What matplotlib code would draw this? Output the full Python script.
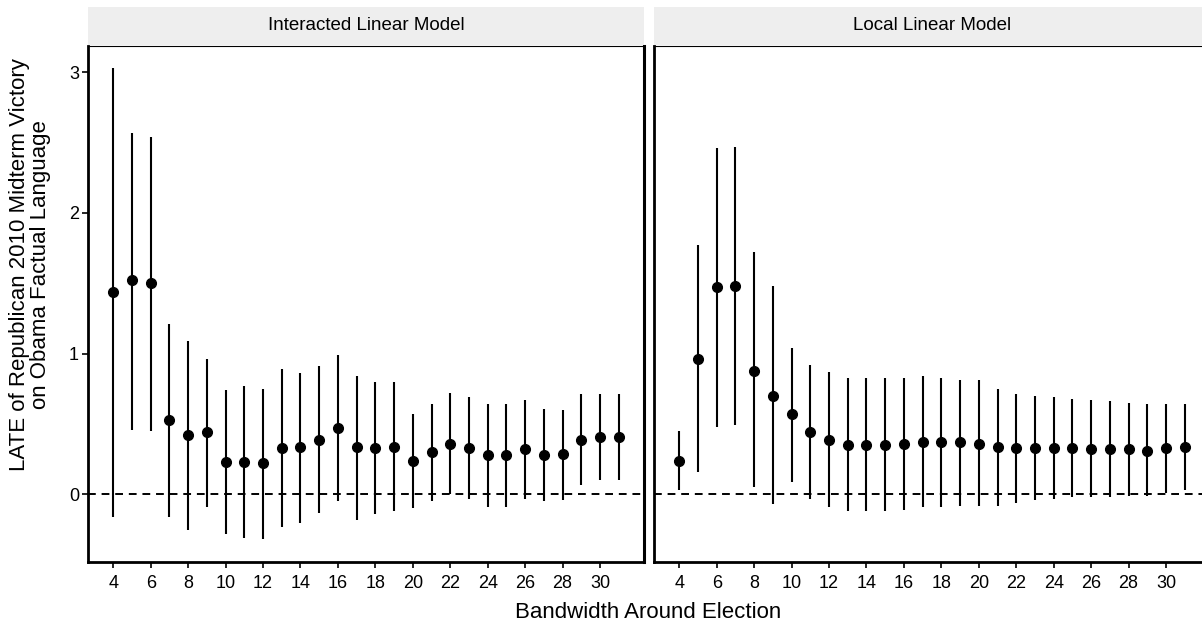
import matplotlib.pyplot as plt

plt.rcParams['font.family'] = ['Liberation Sans', 'DejaVu Sans']

bandwidth = list(range(4, 32))
panel_titles = ["Interacted Linear Model", "Local Linear Model"]

# interacted linear model: estimate, lower and upper bound
int_est = [1.44, 1.52, 1.50, 0.53, 0.42, 0.44, 0.23, 0.23, 0.22, 0.33, 0.34, 0.39, 0.47, 0.34,
           0.33, 0.34, 0.24, 0.30, 0.36, 0.33, 0.28, 0.28, 0.32, 0.28, 0.29, 0.39, 0.41, 0.41]
int_lo = [-0.16, 0.46, 0.45, -0.16, -0.25, -0.09, -0.28, -0.31, -0.32, -0.23, -0.20, -0.13, -0.05, -0.18,
          -0.14, -0.12, -0.10, -0.05, 0.00, -0.03, -0.09, -0.09, -0.03, -0.05, -0.04, 0.07, 0.10, 0.10]
int_hi = [3.03, 2.57, 2.54, 1.21, 1.09, 0.96, 0.74, 0.77, 0.75, 0.89, 0.86, 0.91, 0.99, 0.84,
          0.80, 0.80, 0.57, 0.64, 0.72, 0.69, 0.64, 0.64, 0.67, 0.61, 0.60, 0.71, 0.71, 0.71]

# local linear model
loc_est = [0.24, 0.96, 1.47, 1.48, 0.88, 0.70, 0.57, 0.44, 0.39, 0.35, 0.35, 0.35, 0.36, 0.37,
           0.37, 0.37, 0.36, 0.34, 0.33, 0.33, 0.33, 0.33, 0.32, 0.32, 0.32, 0.31, 0.33, 0.34]
loc_lo = [0.03, 0.16, 0.48, 0.49, 0.05, -0.07, 0.09, -0.03, -0.09, -0.12, -0.12, -0.12, -0.11, -0.09,
          -0.09, -0.08, -0.08, -0.08, -0.06, -0.04, -0.03, -0.02, -0.02, -0.02, -0.01, -0.01, 0.01, 0.03]
loc_hi = [0.45, 1.77, 2.46, 2.47, 1.72, 1.48, 1.04, 0.92, 0.87, 0.83, 0.83, 0.83, 0.83, 0.84,
          0.83, 0.81, 0.81, 0.75, 0.71, 0.70, 0.69, 0.68, 0.67, 0.66, 0.65, 0.64, 0.64, 0.64]

W, H = 1202, 627
fig = plt.figure(figsize=(W / 100, H / 100), dpi=100)

panels = [(88, int_est, int_lo, int_hi), (654, loc_est, loc_lo, loc_hi)]
for i, (left_px, est, lo, hi) in enumerate(panels):
    ax = fig.add_axes([left_px / W, (H - 562) / H, 556 / W, 516 / H])
    ax.axhline(0, color='black', lw=1.4, ls=(0, (4, 3)), zorder=1)
    ax.vlines(bandwidth, lo, hi, color='black', lw=1.5, zorder=2)
    ax.plot(bandwidth, est, 'o', color='black', ms=7, zorder=3)
    ax.set_xlim(2.65, 32.35)
    ax.set_ylim(-0.48, 3.185)
    ax.set_xticks(range(4, 31, 2))
    ax.set_yticks([0, 1, 2, 3])
    ax.tick_params(length=4, width=1.2, labelsize=13, colors='black')
    ax.tick_params(axis='x', pad=5)
    ax.tick_params(axis='y', pad=2.5)
    for side in ['left', 'bottom']:
        ax.spines[side].set_linewidth(2.0)
    ax.spines['top'].set_linewidth(0.8)
    ax.spines['right'].set_linewidth(2.2)
    if i == 1:
        ax.tick_params(axis='y', left=False, labelleft=False)

    # facet strip
    sax = fig.add_axes([left_px / W, (H - 45) / H, 556 / W, 38 / H])
    sax.set_facecolor('#EEEEEE')
    for s in sax.spines.values():
        s.set_visible(False)
    sax.set_xticks([])
    sax.set_yticks([])
    sax.text(0.5, 0.5, panel_titles[i], ha='center', va='center', fontsize=13.5,
             transform=sax.transAxes)

fig.text(648 / W, 1 - 612 / H, "Bandwidth Around Election", ha='center', va='center', fontsize=16)
fig.text(30 / W, 1 - 265 / H, "LATE of Republican 2010 Midterm Victory\non Obama Factual Language",
         ha='center', va='center', rotation=90, fontsize=16, linespacing=0.95)

fig.savefig("out.png", dpi=100)
